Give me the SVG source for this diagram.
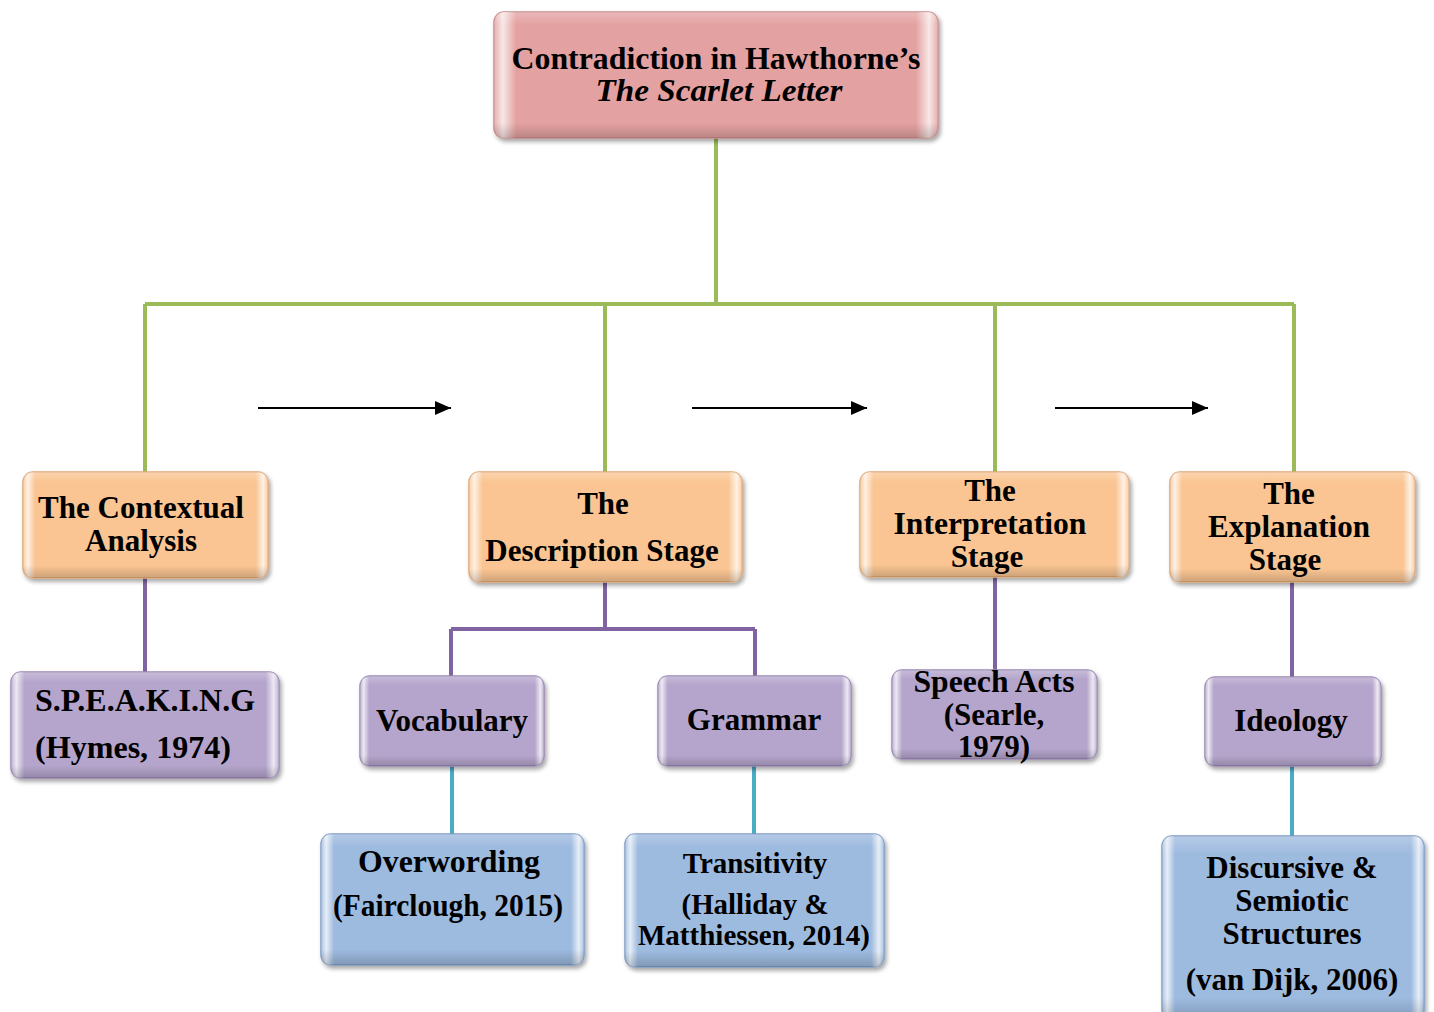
<svg xmlns="http://www.w3.org/2000/svg" width="1434" height="1012" viewBox="0 0 1434 1012">
<defs>
<linearGradient id="hl" x1="0" y1="0" x2="1" y2="0">
<stop offset="0" stop-color="#fff" stop-opacity="0.15"/>
<stop offset="0.02" stop-color="#fff" stop-opacity="0.75"/>
<stop offset="0.05" stop-color="#fff" stop-opacity="0"/>
<stop offset="0.95" stop-color="#fff" stop-opacity="0"/>
<stop offset="0.98" stop-color="#fff" stop-opacity="0.75"/>
<stop offset="1" stop-color="#fff" stop-opacity="0.15"/>
</linearGradient>
<linearGradient id="vl" x1="0" y1="0" x2="0" y2="1">
<stop offset="0" stop-color="#fff" stop-opacity="0.25"/>
<stop offset="0.1" stop-color="#fff" stop-opacity="0"/>
<stop offset="0.88" stop-color="#000" stop-opacity="0"/>
<stop offset="1" stop-color="#000" stop-opacity="0.18"/>
</linearGradient>
<filter id="sh" x="-5%" y="-5%" width="115%" height="125%">
<feDropShadow dx="2" dy="3" stdDeviation="2" flood-color="#000" flood-opacity="0.35"/>
</filter>
<marker id="ar" viewBox="0 0 16 14" refX="16" refY="7" markerWidth="16" markerHeight="14" markerUnits="userSpaceOnUse" orient="auto">
<path d="M0,0 L16,7 L0,14 z" fill="#000"/>
</marker>
</defs>
<style>
.box{stroke-width:1.5;filter:url(#sh)}
.pink{fill:#E4A1A1;stroke:#C98A8A}
.orange{fill:#FAC592;stroke:#E0A877}
.purple{fill:#B5A5CC;stroke:#9A88B4}
.blue{fill:#9DBADF;stroke:#7F9CC4}
.h{fill:url(#hl)}
.v{fill:url(#vl)}
text{font-family:"Liberation Serif","Times New Roman",serif;font-weight:bold;font-size:31px;fill:#000;text-anchor:middle}
.it{font-style:italic}
.g{stroke:#9BBB59;stroke-width:4;fill:none}
.p{stroke:#8064A2;stroke-width:4;fill:none}
.c{stroke:#4BACC6;stroke-width:4;fill:none}
.a{stroke:#000;stroke-width:2;fill:none;marker-end:url(#ar)}
</style>
<g id="connectors">
<path class="g" d="M716,138 V304 M145,304 H1294 M145,304 V472 M605,304 V472 M995,304 V472 M1294,304 V472"/>
<path class="p" d="M145,578 V672 M605,582 V629 M451,629 H755 M451,629 V677 M755,629 V677 M995,577 V670 M1292,582 V677"/>
<path class="c" d="M452,766 V834 M754,766 V834 M1292,766 V836"/>
<line class="a" x1="258" y1="408" x2="451" y2="408"/>
<line class="a" x1="692" y1="408" x2="867" y2="408"/>
<line class="a" x1="1055" y1="408" x2="1208" y2="408"/>
</g>
<g id="root">
<rect class="box pink" x="494" y="12" width="444" height="126" rx="10"/>
<rect class="h" x="494" y="12" width="444" height="126" rx="10"/>
<rect class="v" x="494" y="12" width="444" height="126" rx="10"/>
<text x="716" y="69" textLength="409" lengthAdjust="spacingAndGlyphs">Contradiction in Hawthorne’s</text>
<text class="it" x="719" y="101" textLength="247" lengthAdjust="spacingAndGlyphs">The Scarlet Letter</text>
</g>
<g id="contextual">
<rect class="box orange" x="23" y="472" width="245" height="106" rx="10"/>
<rect class="h" x="23" y="472" width="245" height="106" rx="10"/>
<rect class="v" x="23" y="472" width="245" height="106" rx="10"/>
<text x="141" y="518">The Contextual</text>
<text x="141" y="551">Analysis</text>
</g>
<g id="description">
<rect class="box orange" x="469" y="472" width="273" height="110" rx="10"/>
<rect class="h" x="469" y="472" width="273" height="110" rx="10"/>
<rect class="v" x="469" y="472" width="273" height="110" rx="10"/>
<text x="603" y="514">The</text>
<text x="602" y="561">Description Stage</text>
</g>
<g id="interpretation">
<rect class="box orange" x="860" y="472" width="269" height="105" rx="10"/>
<rect class="h" x="860" y="472" width="269" height="105" rx="10"/>
<rect class="v" x="860" y="472" width="269" height="105" rx="10"/>
<text x="990" y="501">The</text>
<text x="990" y="534" textLength="193" lengthAdjust="spacingAndGlyphs">Interpretation</text>
<text x="987" y="567">Stage</text>
</g>
<g id="explanation">
<rect class="box orange" x="1170" y="472" width="245" height="110" rx="10"/>
<rect class="h" x="1170" y="472" width="245" height="110" rx="10"/>
<rect class="v" x="1170" y="472" width="245" height="110" rx="10"/>
<text x="1289" y="504">The</text>
<text x="1289" y="537">Explanation</text>
<text x="1285" y="570">Stage</text>
</g>
<g id="speaking">
<rect class="box purple" x="11" y="672" width="268" height="106" rx="10"/>
<rect class="h" x="11" y="672" width="268" height="106" rx="10"/>
<rect class="v" x="11" y="672" width="268" height="106" rx="10"/>
<text x="35" y="711" style="text-anchor:start" textLength="220" lengthAdjust="spacingAndGlyphs">S.P.E.A.K.I.N.G</text>
<text x="35" y="758" style="text-anchor:start" textLength="196" lengthAdjust="spacingAndGlyphs">(Hymes, 1974)</text>
</g>
<g id="vocabulary">
<rect class="box purple" x="360" y="676" width="184" height="90" rx="10"/>
<rect class="h" x="360" y="676" width="184" height="90" rx="10"/>
<rect class="v" x="360" y="676" width="184" height="90" rx="10"/>
<text x="452" y="731">Vocabulary</text>
</g>
<g id="grammar">
<rect class="box purple" x="658" y="676" width="193" height="90" rx="10"/>
<rect class="h" x="658" y="676" width="193" height="90" rx="10"/>
<rect class="v" x="658" y="676" width="193" height="90" rx="10"/>
<text x="754" y="730">Grammar</text>
</g>
<g id="speechacts">
<rect class="box purple" x="892" y="670" width="205" height="89" rx="10"/>
<rect class="h" x="892" y="670" width="205" height="89" rx="10"/>
<rect class="v" x="892" y="670" width="205" height="89" rx="10"/>
<text x="994" y="692" textLength="161" lengthAdjust="spacingAndGlyphs">Speech Acts</text>
<text x="994" y="725">(Searle,</text>
<text x="994" y="757">1979)</text>
</g>
<g id="ideology">
<rect class="box purple" x="1205" y="677" width="176" height="89" rx="10"/>
<rect class="h" x="1205" y="677" width="176" height="89" rx="10"/>
<rect class="v" x="1205" y="677" width="176" height="89" rx="10"/>
<text x="1291" y="731">Ideology</text>
</g>
<g id="overwording">
<rect class="box blue" x="321" y="834" width="263" height="131" rx="10"/>
<rect class="h" x="321" y="834" width="263" height="131" rx="10"/>
<rect class="v" x="321" y="834" width="263" height="131" rx="10"/>
<text x="449" y="872" textLength="182" lengthAdjust="spacingAndGlyphs">Overwording</text>
<text x="448" y="916" textLength="230" lengthAdjust="spacingAndGlyphs">(Fairclough, 2015)</text>
</g>
<g id="transitivity">
<rect class="box blue" x="625" y="834" width="259" height="133" rx="10"/>
<rect class="h" x="625" y="834" width="259" height="133" rx="10"/>
<rect class="v" x="625" y="834" width="259" height="133" rx="10"/>
<text x="755" y="873" style="font-size:29px">Transitivity</text>
<text x="755" y="914" style="font-size:29px" textLength="147" lengthAdjust="spacingAndGlyphs">(Halliday &amp;</text>
<text x="754" y="945" style="font-size:29px" textLength="232" lengthAdjust="spacingAndGlyphs">Matthiessen, 2014)</text>
</g>
<g id="discursive">
<rect class="box blue" x="1162" y="836" width="262" height="184" rx="10"/>
<rect class="h" x="1162" y="836" width="262" height="184" rx="10"/>
<rect class="v" x="1162" y="836" width="262" height="184" rx="10"/>
<text x="1292" y="878">Discursive &amp;</text>
<text x="1292" y="911">Semiotic</text>
<text x="1292" y="944">Structures</text>
<text x="1292" y="990">(van Dijk, 2006)</text>
</g>
</svg>
